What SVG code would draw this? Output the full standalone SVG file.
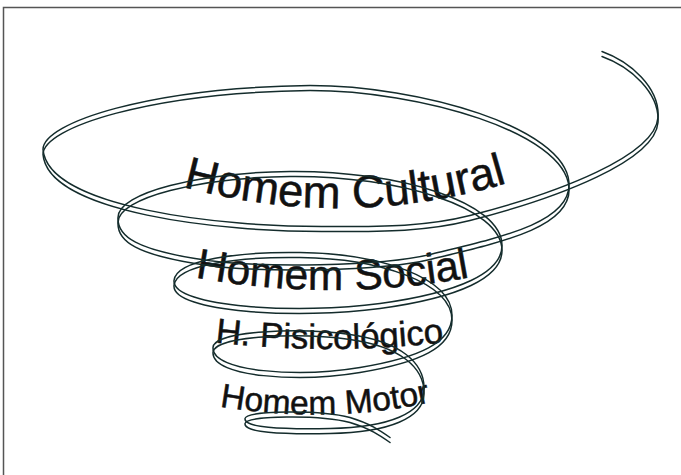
<svg xmlns="http://www.w3.org/2000/svg" xmlns:xlink="http://www.w3.org/1999/xlink" width="681" height="475" viewBox="0 0 681 475">
<style>
.rib{fill:none;stroke:#142c2c;stroke-width:1.5;stroke-linecap:round;stroke-linejoin:round}
.lbl{font-family:"Liberation Sans",Arial,sans-serif;fill:#111;stroke:#111;stroke-width:0.5}
</style>
<defs>
<path id="sp" d="M602,54 C630,64 660,90 658,120 C655,158 560,195 470,218 C425,229.5 380,229 330,229 C220,230 48,210 43,152 C43,125 150,90 310,88 C420,88 565,130 569,185 C572,225 500,240 430,257 C385,268 260,272 195,261 C140,252 117,240 118,220 C118,195 200,175 290,174 C400,173 502,205 502,248 C502,275 460,295 380,306 C300,317 172,310 174,283 C176,262 240,254 300,255 C380,256 452,280 452,318 C452,345 420,360 360,370 C300,380 212,375 213,350 C214,333 300,330 350,337 C400,344 425,365 424,392 C423,415 390,430 330,431 C280,432 244,430 245,421 C246,413 320,412 350,420 C370,426 380,433 390,440"/>
<path id="p1" d="M176,185 Q345,233 514,181"/>
<path id="p2" d="M193,277 Q333,303 472,277"/>
<path id="p3" d="M212,342 Q329,356 447,342"/>
<path id="p4" d="M218,406 Q325,425 432,402"/>
</defs>
<rect x="3.5" y="7.5" width="700" height="500" fill="#fff" stroke="#555" stroke-width="1.5"/>
<g id="label-cultural"><text class="lbl" font-size="45.5" text-anchor="middle"><textPath href="#p1" xlink:href="#p1" startOffset="50%">Homem Cultural</textPath></text></g>
<g id="label-social"><text class="lbl" font-size="42.5" text-anchor="middle"><textPath href="#p2" xlink:href="#p2" startOffset="50%">Homem Social</textPath></text></g>
<g id="label-psico"><text class="lbl" font-size="35" text-anchor="middle"><textPath href="#p3" xlink:href="#p3" startOffset="50%">H. Pisicológico</textPath></text></g>
<g id="label-motor"><text class="lbl" font-size="33.5" text-anchor="middle"><textPath href="#p4" xlink:href="#p4" startOffset="50%">Homem Motor</textPath></text></g>
<g id="spiral">
<use href="#sp" xlink:href="#sp" class="rib" transform="translate(0,-2.5)"/>
<use href="#sp" xlink:href="#sp" class="rib" transform="translate(0,2.5)"/>
</g>
</svg>
